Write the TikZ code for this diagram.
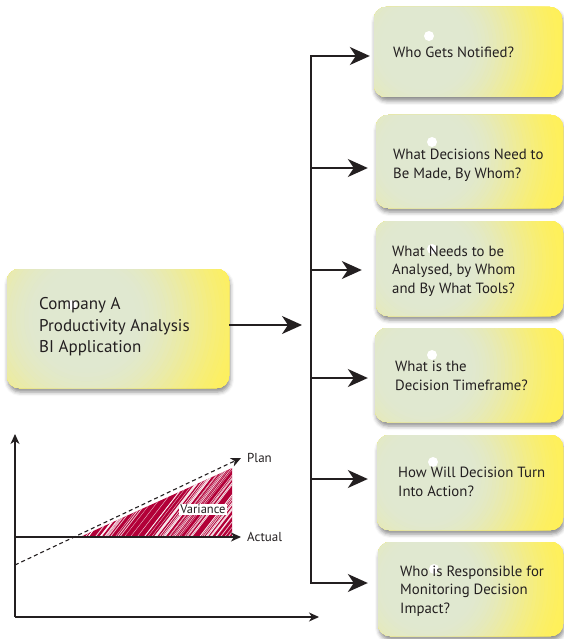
\documentclass[tikz,border=0pt]{standalone}
\usepackage{fontspec}
\setmainfont{PT Sans}
\usetikzlibrary{arrows.meta,shadows.blur,calc}
\definecolor{ink}{RGB}{35,31,32}
\definecolor{cA}{RGB}{224,232,208}
\definecolor{cB}{RGB}{255,240,88}
\definecolor{crim}{RGB}{178,0,56}
\tikzset{
  box/.style={draw=none, fill=cB, rounded corners=12pt, inner sep=0pt,
    blur shadow={shadow xshift=1pt, shadow yshift=-4pt, shadow blur radius=4pt, shadow opacity=45}},
  glowpic/.style n args={4}{path picture={
    \foreach \k in {0,...,44}{
      \pgfmathsetmacro{\grad}{#4+12-\k*(#4+12)/44}
      \pgfmathsetmacro{\gt}{max(0,min(1,(\grad-#3)/(#4-#3)))}
      \pgfmathsetmacro{\gp}{100*\gt*\gt*(3-2*\gt)}
      \fill[cB!\gp!cA] ($(path picture bounding box.west)+(#1pt,#2pt)$) circle (\grad pt);
    }}},
  qbox/.style={box, glowpic={50}{6}{42}{148}},
  lbox/.style={box, glowpic={80}{10}{48}{172}},
  qtext/.style={anchor=west, align=left, inner sep=0pt, text=ink, font=\fontsize{14.8}{18.7}\selectfont},
  ltext/.style={anchor=west, align=left, inner sep=0pt, text=ink, font=\fontsize{17}{21.5}\selectfont},
  dot/.style={fill=white},
  bigarr/.style={draw=ink, line width=1.6pt, -{Stealth[length=20pt,width=18pt,inset=6pt]}},
  bus/.style={draw=ink, line width=1.6pt},
  axis/.style={draw=ink, line width=1.1pt, -{Stealth[length=10pt,width=9pt,inset=3pt]}},
  ctext/.style={anchor=west, inner sep=0pt, text=ink, font=\fontsize{13}{15}\selectfont},
}
\begin{document}
\begin{tikzpicture}[x=1pt,y=-1pt]
\useasboundingbox (0,0) rectangle (563,639);
% boxes
\node[lbox, minimum width=222pt, minimum height=119pt] (L) at (118,328.5) {};
\node[qbox, minimum width=188pt, minimum height=90pt] (q1) at (468,52) {};
\node[qbox, minimum width=187pt, minimum height=93pt] (q2) at (469.5,161.5) {};
\node[qbox, minimum width=187pt, minimum height=95pt] (q3) at (469.5,268.5) {};
\node[qbox, minimum width=188pt, minimum height=94pt] (q4) at (469,375) {};
\node[qbox, minimum width=186pt, minimum height=95pt] (q5) at (470,482.5) {};
\node[qbox, minimum width=185pt, minimum height=94pt] (q6) at (470.5,589) {};
% highlight dots
\fill[dot] (72,305) circle (5);
\fill[dot] (429,36) circle (5);
\fill[dot] (432,142) circle (5);
\fill[dot] (432,249) circle (5);
\fill[dot] (432,355) circle (5);
\fill[dot] (433,462) circle (5);
\fill[dot] (434,569) circle (5);
% texts
\node[ltext] (lt) at (39,327) {Company A\\Productivity Analysis\\BI Application};
\node[qtext] (t1) at (393,52) {Who Gets Notified?};
\node[qtext] (t2) at (393,165) {What Decisions Need to\\Be Made, By Whom?};
\node[qtext] (t3) at (392,271) {What Needs to be\\Analysed, by Whom\\and By What Tools?};
\node[qtext] (t4) at (395,376) {What is the\\Decision Timeframe?};
\node[qtext] (t5) at (398,481.5) {How Will Decision Turn\\Into Action?};
\node[qtext] (t6) at (400,591) {Who is Responsible for\\Monitoring Decision\\Impact?};
% connectors
\coordinate (m) at (302,325);
\draw[bigarr] (L.east |- m) -- (m);
\coordinate (b1) at (311,56);
\coordinate (b2) at (311,168);
\coordinate (b3) at (311,270);
\coordinate (b4) at (311,378);
\coordinate (b5) at (311,479);
\coordinate (b6) at (311,583);
\draw[bus] ([yshift=0.8pt]b1) -- ([yshift=-0.8pt]b6);
\draw[bigarr] (b1) -- ([xshift=-4pt]b1 -| q1.west);
\draw[bigarr] (b2) -- ([xshift=-8pt]b2 -| q2.west);
\draw[bigarr] (b3) -- ([xshift=-14pt]b3 -| q3.west);
\draw[bigarr] (b4) -- ([xshift=-7pt]b4 -| q4.west);
\draw[bigarr] (b5) -- ([xshift=-9pt]b5 -| q5.west);
\draw[bigarr] (b6) -- ([xshift=-10pt]b6 -| q6.west);
% chart
\coordinate (O) at (15,617);
\coordinate (ytop) at (15,434);
\coordinate (xend) at (319,617);
\coordinate (a0) at (15,537);
\coordinate (a1) at (241,537);
\coordinate (p0) at (15,565);
\coordinate (p1) at (241,458);
\begin{scope}
\clip (80,537) -- (232,468) -- (232,537) -- cycle;
\fill[crim] (70,460) rectangle (240,540);
\pgfmathsetseed{11}
\foreach \i in {1,...,110}{
  \pgfmathsetmacro{\xx}{30+210*rnd}
  \pgfmathsetmacro{\ww}{0.2+0.7*rnd}
  \draw[white, opacity=0.8, line width=\ww pt] (\xx,545) -- (\xx+62,465);
}
\end{scope}
\draw[axis] (O) -- (ytop);
\draw[axis] (O) -- (xend);
\draw[axis] (a0) -- (a1);
\draw[axis, dashed, dash pattern=on 4pt off 3pt] (p0) -- (p1);
\node[fill=white, inner xsep=1.5pt, inner ysep=1pt, text=ink, font=\fontsize{12.5}{14}\selectfont] (var) at (203,509) {Variance};
\node[ctext] (plan) at (247,458) {Plan};
\node[ctext] (act) at (247,537) {Actual};
\end{tikzpicture}
\end{document}
